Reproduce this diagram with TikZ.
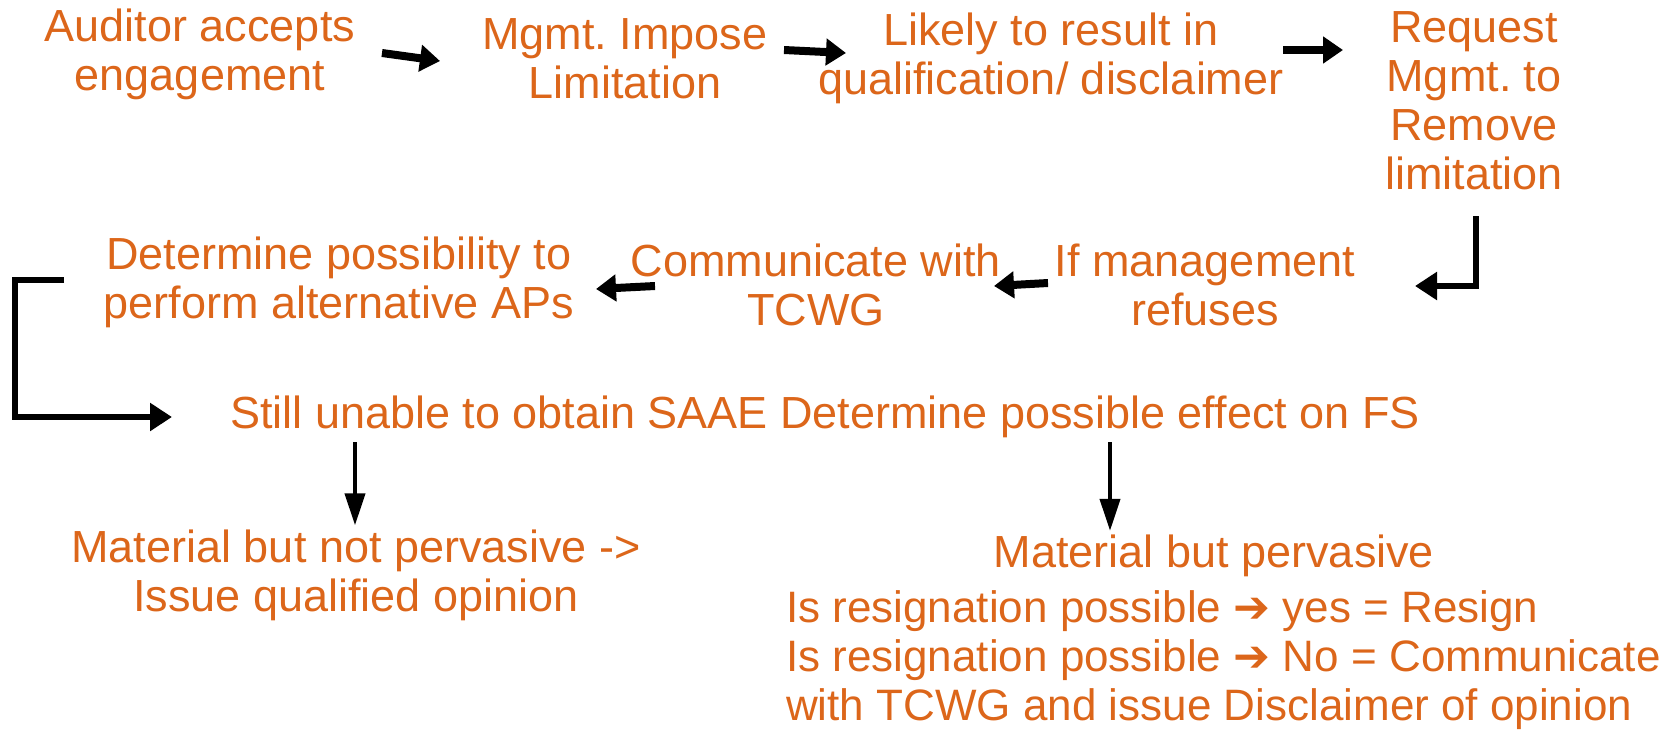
\documentclass[tikz,border=0pt]{standalone}
\usepackage{fontspec}
\setmainfont{Liberation Sans}
\newfontfamily\dvs{DejaVu Sans}
\usetikzlibrary{arrows.meta,calc}
\definecolor{txt}{RGB}{220,102,26}
\frenchspacing
\begin{document}
\begin{tikzpicture}[x=1pt,y=-1pt,
  lbl/.style={text=txt, font=\fontsize{45}{49}\selectfont\frenchspacing, align=center, inner sep=0pt},
  harrow/.style={line width=8pt, black, -{Triangle[length=20pt,width=26pt]}},
  barrow/.style={line width=6.5pt, black, line join=miter, -{Triangle[length=22pt,width=27pt]}},
  varrow/.style={line width=4pt, black, -{Triangle[length=32pt,width=20pt]}}]
\useasboundingbox (0,0) rectangle (1677,734);

% row 1
\node[lbl] (n1) at (200,54) {Auditor accepts\\engagement};
\node[lbl] (n2) at (625,59) {Mgmt. Impose\\Limitation};
\node[lbl] (n3) at (1051,58) {Likely to result in\\qualification/ disclaimer};
\node[lbl] (n4) at (1474,101) {Request\\Mgmt. to\\Remove\\limitation};
% row 2
\node[lbl] (n5) at (1205,285) {If management\\refuses};
\node[lbl] (n6) at (816,285) {Communicate with\\TCWG};
\node[lbl] (n7) at (339,282) {Determine possibility to\\perform alternative APs};
% row 3
\node[lbl] (n8) at (825,417) {Still unable to obtain SAAE Determine possible effect on FS};
\node[lbl] (n9) at (356,575) {Material but not pervasive ->\\Issue qualified opinion};
\node[lbl] (n10) at (1214,556) {Material but pervasive};
\node[lbl, font=\fontsize{44}{49}\selectfont\frenchspacing, align=left, anchor=west] (n11) at (786,660) {Is resignation possible {\dvs ➔} yes = Resign\\Is resignation possible {\dvs ➔} No = Communicate\\with TCWG and issue Disclaimer of opinion};

% arrow end points
\coordinate (a1s) at (382,53);  \coordinate (a1e) at (440,61);
\coordinate (a2s) at (784,50);  \coordinate (a2e) at (846,53);
\coordinate (a3s) at (1283,50); \coordinate (a3e) at (1343,50);
\coordinate (rs) at (1476,216); \coordinate (re) at (1415,286);
\coordinate (a5s) at (1048,283); \coordinate (a5e) at (994,286);
\coordinate (a6s) at (655,286); \coordinate (a6e) at (596,289);
\coordinate (bs) at (64,280); \coordinate (bc) at (15,417); \coordinate (be) at (172,417);
\coordinate (d1) at (355,0); \coordinate (d2) at (1110,0);

\draw[harrow] (a1s) -- (a1e);
\draw[harrow] (a2s) -- (a2e);
\draw[harrow] (a3s) -- (a3e);
\draw[barrow] (rs) |- (re);
\draw[harrow] (a5s) -- (a5e);
\draw[harrow] (a6s) -- (a6e);
\draw[barrow] (bs) -| (bc) -- (be);
\draw[varrow] ($(n8.south -| d1)+(0,4)$) -- ($(n9.north -| d1)+(0,-4)$);
\draw[varrow] ($(n8.south -| d2)+(0,4)$) -- ($(n10.north -| d2)+(0,-4)$);
\end{tikzpicture}
\end{document}
